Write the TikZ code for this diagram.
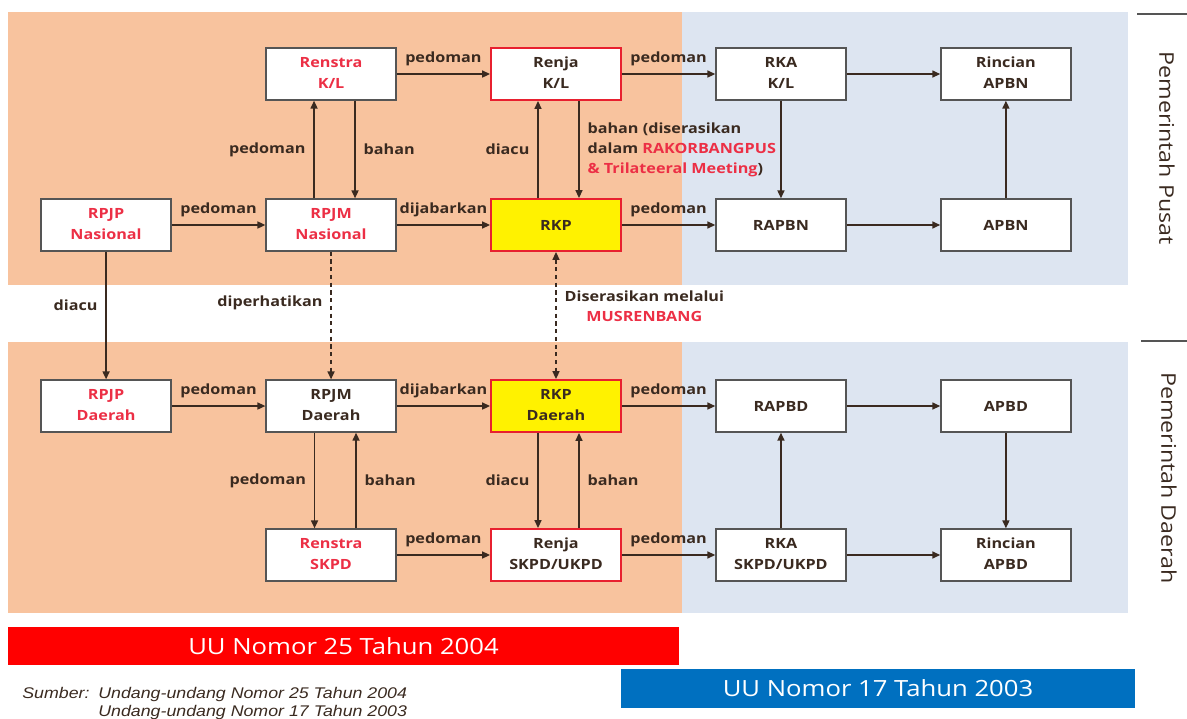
\documentclass[tikz,border=0pt]{standalone}
\usepackage{fontspec}
\setmainfont{Open Sans}[FakeStretch=1.15]
\newfontfamily\srcfamily{Liberation Sans}[FakeStretch=1.15]
\usetikzlibrary{matrix,arrows.meta}

\definecolor{bgorange}{HTML}{F8C39E}
\definecolor{bgblue}{HTML}{DDE5F1}
\definecolor{inkdark}{HTML}{3A2A20}
\definecolor{inkred}{HTML}{EC2F45}
\definecolor{edgered}{HTML}{E8202F}
\definecolor{boxgray}{HTML}{555555}
\definecolor{barred}{HTML}{FF0000}
\definecolor{barblue}{HTML}{0070C0}

\newcommand{\twol}[2]{\begin{tabular}{@{}c@{}}#1\\#2\end{tabular}}

\tikzset{
  plan/.style={draw=boxgray, fill=white, line width=0.8pt, minimum width=2.6cm,
               minimum height=1.04cm, inner sep=1pt, anchor=center, text=inkdark,
               font=\bfseries\fontsize{8}{12}\selectfont},
  planred/.style={plan, text=inkred},
  renja/.style={plan, draw=edgered, line width=1.1pt},
  rkp/.style={renja, fill=yellow},
  flow/.style={draw=inkdark, line width=0.8pt, -{Triangle[length=4.5pt,width=4pt]}},
  sync/.style={flow, dash pattern=on 2.4pt off 2pt},
  twoway/.style={sync, {Triangle[length=4.5pt,width=4pt]}-{Triangle[length=4.5pt,width=4pt]}},
}

\begin{document}
\begin{tikzpicture}[x=0.02cm,y=-0.02cm]
  \useasboundingbox (0,0) rectangle (1187,718);
  % bands
  \fill[bgorange] (8,12) rectangle (682,285);
  \fill[bgblue] (682,12) rectangle (1128,285);
  \fill[bgorange] (8,342) rectangle (682,613);
  \fill[bgblue] (682,342) rectangle (1128,613);
  \draw[boxgray, line width=0.6pt] (1137,14) -- (1187,14);
  \draw[boxgray, line width=0.6pt] (1141,341) -- (1187,341);

  \matrix (pusat) [matrix of nodes, nodes={plan}, anchor=center,
                   column sep={4.5cm,between origins},
                   row sep={3.02cm,between origins}] at (556,149.5)
  {
    & |[planred] (renstrakl)| \twol{Renstra}{K/L} & |[renja] (renjakl)| \twol{Renja}{K/L}
    & |(rkakl)| \twol{RKA}{K/L} & |(rincianapbn)| \twol{Rincian}{APBN} \\
    |[planred] (rpjpn)| \twol{RPJP}{Nasional} & |[planred] (rpjmn)| \twol{RPJM}{Nasional}
    & |[rkp] (rkp)| RKP & |(rapbn)| RAPBN & |(apbn)| APBN \\
  };

  \matrix (daerah) [matrix of nodes, nodes={plan}, anchor=center,
                    column sep={4.5cm,between origins},
                    row sep={2.98cm,between origins}] at (556,480.5)
  {
    |[planred] (rpjpd)| \twol{RPJP}{Daerah} & |(rpjmd)| \twol{RPJM}{Daerah}
    & |[rkp] (rkpd)| \twol{RKP}{Daerah} & |(rapbd)| RAPBD & |(apbd)| APBD \\
    & |[planred] (renstraskpd)| \twol{Renstra}{SKPD} & |[renja] (renjaskpd)| \twol{Renja}{SKPD/UKPD}
    & |(rkaskpd)| \twol{RKA}{SKPD/UKPD} & |(rincianapbd)| \twol{Rincian}{APBD} \\
  };

  \begin{scope}[every node/.style={midway,auto,inner sep=4.5pt,text=inkdark,
                                   font=\bfseries\fontsize{8}{11.3}\selectfont}]
    % pemerintah pusat
    \draw[flow] (renstrakl) -- node {pedoman} (renjakl);
    \draw[flow] (renjakl) -- node {pedoman} (rkakl);
    \draw[flow] (rkakl) -- (rincianapbn);
    \draw[flow] (rpjpn) -- node {pedoman} (rpjmn);
    \draw[flow] (rpjmn) -- node {dijabarkan} (rkp);
    \draw[flow] (rkp) -- node {pedoman} (rapbn);
    \draw[flow] (rapbn) -- (apbn);
    \draw[flow] ([xshift=-3.4mm]rpjmn.north) -- node {pedoman} ([xshift=-3.4mm]renstrakl.south);
    \draw[flow] ([xshift=4.8mm]renstrakl.south) -- node {bahan} ([xshift=4.8mm]rpjmn.north);
    \draw[flow] ([xshift=-3.6mm]rkp.north) -- node {diacu} ([xshift=-3.6mm]renjakl.south);
    \draw[flow] ([xshift=4.6mm]renjakl.south) -- node[align=left]
      {bahan (diserasikan\\dalam \textcolor{inkred}{RAKORBANGPUS}\\\textcolor{inkred}{\& Trilateeral Meeting})}
      ([xshift=4.6mm]rkp.north);
    \draw[flow] (rkakl) -- (rapbn);
    \draw[flow] (apbn) -- (rincianapbn);
    % antar pemerintahan
    \draw[flow] (rpjpn) -- node[swap,pos=0.42] {diacu} (rpjpd);
    \draw[sync] (rpjmn) -- node[swap,pos=0.4] {diperhatikan} (rpjmd);
    \draw[twoway] (rkp) -- node[pos=0.43,align=center]
      {Diserasikan melalui\\\textcolor{inkred}{MUSRENBANG}} (rkpd);
    % pemerintah daerah
    \draw[flow] (rpjpd) -- node {pedoman} (rpjmd);
    \draw[flow] (rpjmd) -- node {dijabarkan} (rkpd);
    \draw[flow] (rkpd) -- node {pedoman} (rapbd);
    \draw[flow] (rapbd) -- (apbd);
    \draw[flow] (renstraskpd) -- node {pedoman} (renjaskpd);
    \draw[flow] (renjaskpd) -- node {pedoman} (rkaskpd);
    \draw[flow] (rkaskpd) -- (rincianapbd);
    \draw[flow] ([xshift=-3.3mm]rpjmd.south) -- node[swap] {pedoman} ([xshift=-3.3mm]renstraskpd.north);
    \draw[flow] ([xshift=5mm]renstraskpd.north) -- node[swap] {bahan} ([xshift=5mm]rpjmd.south);
    \draw[flow] ([xshift=-3.6mm]rkpd.south) -- node[swap] {diacu} ([xshift=-3.6mm]renjaskpd.north);
    \draw[flow] ([xshift=4.6mm]renjaskpd.north) -- node[swap] {bahan} ([xshift=4.6mm]rkpd.south);
    \draw[flow] (rkaskpd) -- (rapbd);
    \draw[flow] (apbd) -- (rincianapbd);
  \end{scope}

  \node[rotate=-90, text=inkdark, font=\fontsize{11.5}{13}\selectfont] (lblpusat) at (1167,148) {Pemerintah Pusat};
  \node[rotate=-90, text=inkdark, font=\fontsize{11.5}{13}\selectfont] (lbldaerah) at (1169,478) {Pemerintah Daerah};

  % undang-undang
  \node[fill=barred, inner sep=0pt, minimum width=13.42cm, minimum height=0.76cm, text=white,
        font=\fontsize{12.7}{14}\selectfont] (uu25) at (343.5,646) {UU Nomor 25 Tahun 2004};
  \node[fill=barblue, inner sep=0pt, minimum width=10.28cm, minimum height=0.78cm, text=white,
        font=\fontsize{12.7}{14}\selectfont] (uu17) at (878,688.5) {UU Nomor 17 Tahun 2003};
  \node[anchor=north west, inner sep=0pt, text=inkdark, font=\srcfamily\itshape\fontsize{8.8}{10.2}\selectfont]
    (sumber) at (22,686)
    {\begin{tabular}{@{}l@{\hspace{5pt}}l@{}}Sumber: & Undang-undang Nomor 25 Tahun 2004\\
     & Undang-undang Nomor 17 Tahun 2003\end{tabular}};
\end{tikzpicture}
\end{document}
